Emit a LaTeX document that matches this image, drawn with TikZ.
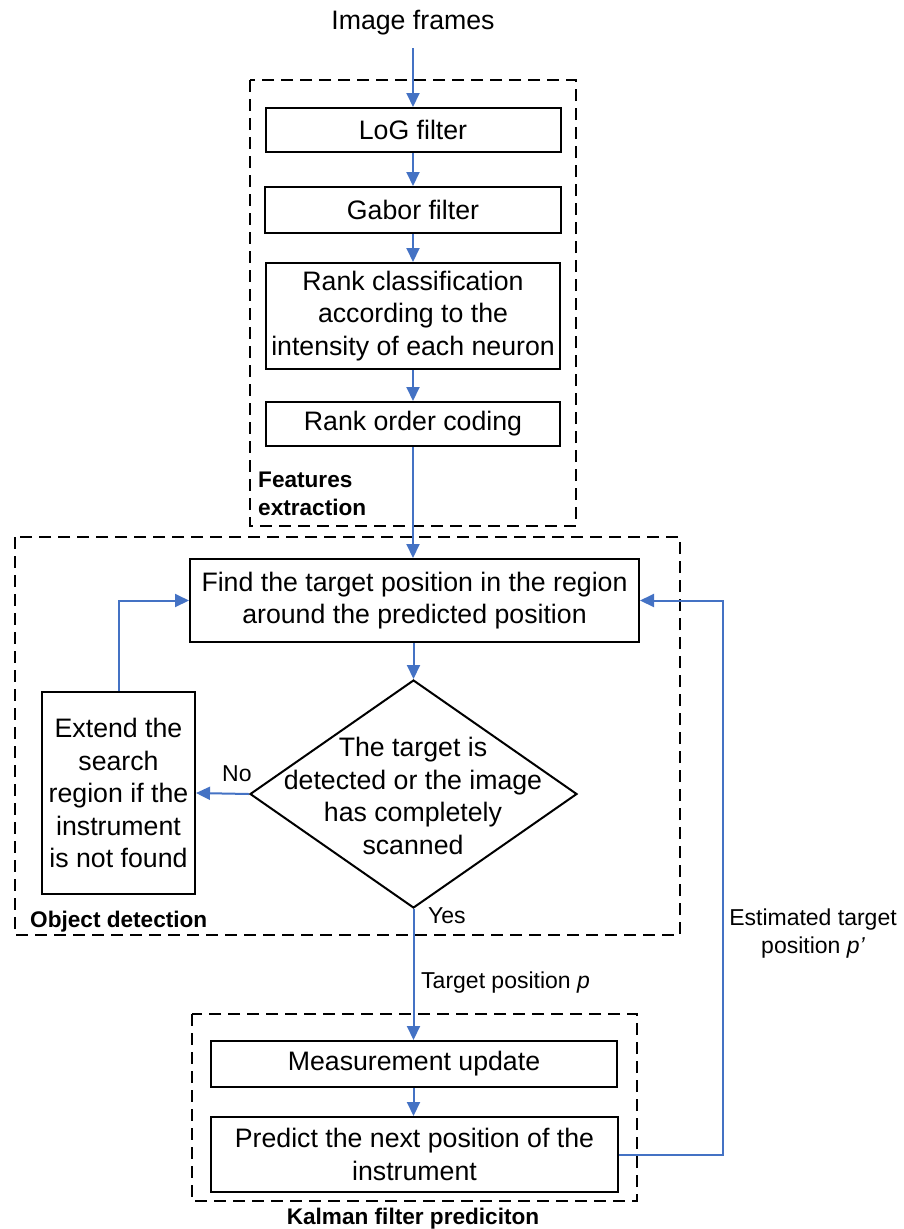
\documentclass[tikz,border=0pt]{standalone}
\usepackage{fontspec}
\setmainfont{Liberation Sans}
\usetikzlibrary{arrows.meta,shapes.geometric}
\definecolor{flowblue}{RGB}{68,114,196}
\begin{document}
\begin{tikzpicture}[x=1pt,y=-1pt,
  boxtext/.style={font=\fontsize{26.7}{32.5}\selectfont, align=center},
  stepbox/.style={draw=black, line width=2pt, boxtext, inner sep=0pt},
  region/.style={draw=black, line width=2pt, dash pattern=on 12pt off 7pt},
  label/.style={font=\fontsize{23}{28}\selectfont, inner sep=0pt},
  grouplabel/.style={font=\fontsize{22.6}{28}\selectfont\bfseries, inner sep=0pt},
  flow/.style={draw=flowblue, line width=2pt, -{Triangle[width=13pt,length=14pt]}}]
\useasboundingbox (0,0) rectangle (903,1229);

% dashed group frames
\draw[region] (250,80) rectangle (576,526);
\draw[region] (15,537) rectangle (680,935);
\draw[region] (192,1014) rectangle (637,1201);

% input
\node[label, font=\fontsize{26.7}{32}\selectfont, anchor=base] (inp) at (413,29) {Image frames};
\coordinate (inpend) at (413,48);

% feature extraction
\node[stepbox, minimum width=295, minimum height=44] (log) at (413,130) {LoG filter};
\node[stepbox, minimum width=296, minimum height=46] (gab) at (413,210) {Gabor filter};
\node[stepbox, minimum width=294, minimum height=106] (rank) at (413,316)
  {Rank classification\\according to the\\intensity of each neuron};
\node[stepbox, minimum width=294, minimum height=44] (roc) at (413,424) {Rank order coding};
\node[grouplabel, anchor=base west, align=left] (fe) at (258,515) {Features\\extraction};

% object detection
\node[stepbox, minimum width=449, minimum height=83] (find) at (414.5,600.5)
  {Find the target position in the region\\around the predicted position};
\node[draw=black, line width=2pt, shape=diamond, inner sep=0pt,
  minimum width=327, minimum height=228] (dec) at (413.5,794) {};
\node[boxtext, inner sep=0pt] (dectext) at (413,796)
  {The target is\\detected or the image\\has completely\\scanned};
\node[stepbox, minimum width=153, minimum height=202] (ext) at (118.5,793)
  {Extend the\\search\\region if the\\instrument\\is not found};
\node[grouplabel, anchor=base west] (od) at (30,927) {Object detection};
\node[label, anchor=base west] (no) at (222,781) {No};
\node[label, anchor=base west] (yes) at (428,923) {Yes};

% Kalman filter
\node[stepbox, minimum width=406, minimum height=46] (meas) at (414,1064) {Measurement update};
\node[stepbox, minimum width=407, minimum height=75] (pred) at (414.5,1154.5)
  {Predict the next position of the\\instrument};
\node[grouplabel, anchor=base] (kf) at (413,1224) {Kalman filter prediciton};

% signal labels
\node[label, anchor=base west] (tp) at (421,988) {Target position {\itshape p}};
\node[label, align=center, anchor=base] (est) at (813,953)
  {Estimated target\\position {\itshape p’}};

% main flow
\draw[flow] (inpend) -- (log.north);
\draw[flow] (log.south) -- (gab.north);
\draw[flow] (gab.south) -- (rank.north);
\draw[flow] (rank.south) -- (roc.north);
\draw[flow] (roc.south) -- (roc.south |- find.north);
\draw[flow] (find.south -| dec.north) -- (dec.north);
\draw[flow] (dec.west) -- (ext.east);
\draw[flow] (ext.north) |- (find.west);
\draw[flow] (dec.south) -- (dec.south |- meas.north);
\draw[flow] (meas.south -| dec.south) -- (pred.north -| dec.south);
\draw[flow] (pred.east) -- (723,1154.5) |- (find.east);
\end{tikzpicture}
\end{document}
